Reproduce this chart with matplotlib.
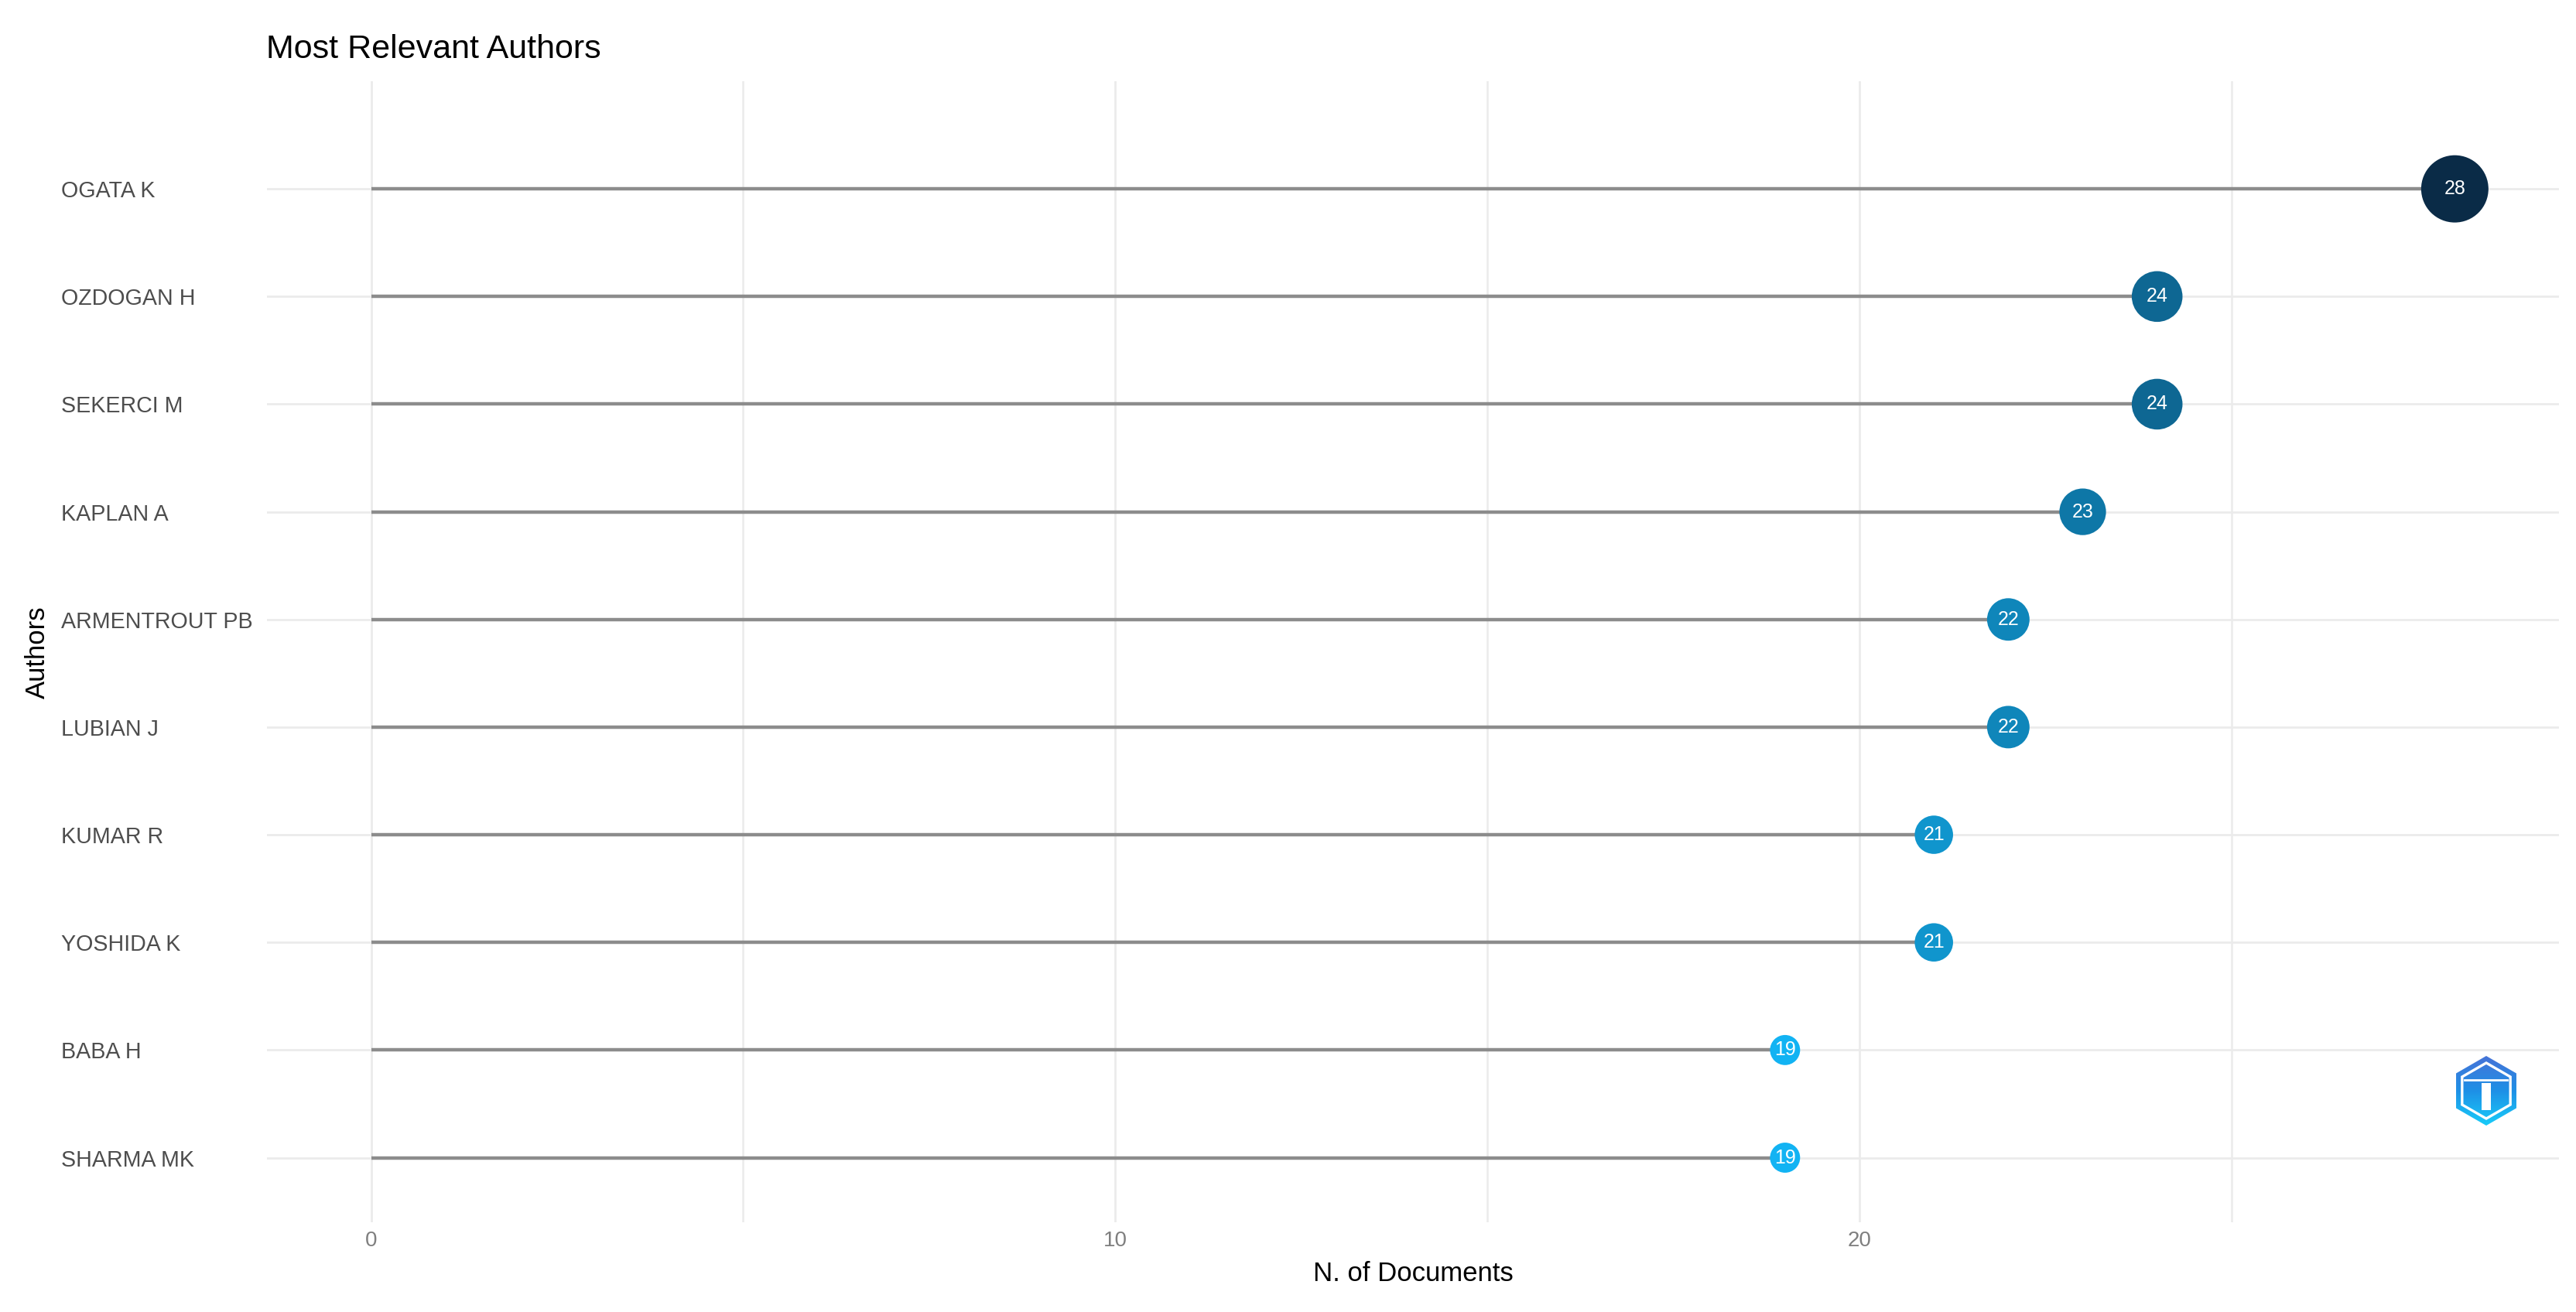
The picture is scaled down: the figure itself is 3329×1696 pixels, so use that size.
import numpy as np
import matplotlib
matplotlib.use("Agg")
import matplotlib.pyplot as plt
from matplotlib.colors import LinearSegmentedColormap, Normalize
from matplotlib.patches import RegularPolygon

# --- data -----------------------------------------------------------------
authors = ["OGATA K", "OZDOGAN H", "SEKERCI M", "KAPLAN A", "ARMENTROUT PB",
           "LUBIAN J", "KUMAR R", "YOSHIDA K", "BABA H", "SHARMA MK"]
n_docs = [28, 24, 24, 23, 22, 22, 21, 21, 19, 19]
x_ticks = [0, 10, 20]
x_minor = [5, 15, 25]

plt.rcParams["font.family"] = ["Liberation Sans", "DejaVu Sans"]

W, H, DPI = 3330, 1696, 200
fig = plt.figure(figsize=(W / DPI, H / DPI), dpi=DPI)
fig.patch.set_facecolor("white")

# panel placement (pixels of the final image)
left, right, top, bottom = 345, 3307, 105, 1580
ax = fig.add_axes([left / W, 1 - bottom / H, (right - left) / W, (bottom - top) / H])

ypos = np.arange(len(authors))[::-1] + 1  # first author on top
vals = np.array(n_docs)

cmap = LinearSegmentedColormap.from_list("docs", ["#12B3F3", "#0A2B47"])
norm = Normalize(vmin=vals.min(), vmax=vals.max())

# marker diameter in points, grows with value
d_min, d_max = 14.0, 31.3
diam = d_min + (vals - vals.min()) / (vals.max() - vals.min()) * (d_max - d_min)

ax.hlines(ypos, 0, vals, color="#8c8c8c", lw=1.6, zorder=2)
ax.scatter(vals, ypos, s=diam ** 2, c=vals, cmap=cmap, norm=norm,
           linewidths=0, zorder=3)
for v, y in zip(vals, ypos):
    ax.text(v, y, str(v), ha="center", va="center", color="white",
            fontsize=9, zorder=4)

ax.set_xlim(-1.4, 29.4)
ax.set_ylim(0.4, len(authors) + 1)

ax.set_xticks(x_ticks)
ax.set_xticks(x_minor, minor=True)
ax.set_yticks(ypos)
ax.set_yticklabels(authors, ha="left", color="#4d4d4d", fontsize=10.3)
ax.tick_params(axis="y", length=0, pad=(left - 79) / DPI * 72)
ax.tick_params(axis="x", which="both", length=0, pad=4, labelsize=10,
               labelcolor="#7f7f7f")

ax.grid(which="major", color="#ebebeb", lw=1.0, zorder=0)
ax.grid(which="minor", axis="x", color="#ebebeb", lw=0.9, zorder=0)
ax.set_axisbelow(True)
for s in ax.spines.values():
    s.set_visible(False)

fig.text(344 / W, 1 - 64 / H, "Most Relevant Authors", ha="left", va="center",
         fontsize=15.5, color="black")
fig.text((left + right) / 2 / W, 1 - 1646 / H, "N. of Documents", ha="center",
         va="center", fontsize=12.5, color="black")
fig.text(48 / W, 1 - 843 / H, "Authors", ha="center", va="center",
         rotation=90, fontsize=12.5, color="black")

# small hexagon logo, bottom right
lx, ly, box = 3213, 1410, 100
lax = fig.add_axes([(lx - box / 2) / W, 1 - (ly + box / 2) / H, box / W, box / H])
lax.set_xlim(-1, 1)
lax.set_ylim(-1, 1)
lax.axis("off")
hexa = RegularPolygon((0, 0), 6, radius=0.9, facecolor="none", edgecolor="none")
lax.add_patch(hexa)
grad = np.linspace(0, 1, 100).reshape(-1, 1)
logo_cmap = LinearSegmentedColormap.from_list("logo", ["#18D2FB", "#1E90E6", "#4A70D6"])
img = lax.imshow(grad, extent=(-1, 1, -1, 1), origin="lower", cmap=logo_cmap,
                 aspect="auto")
img.set_clip_path(hexa)
lax.add_patch(RegularPolygon((0, 0), 6, radius=0.72, facecolor="none",
                             edgecolor="white", lw=1.2))
lax.plot([-0.55, 0.55], [0.28, 0.28], color="white", lw=1.0)
lax.add_patch(plt.Rectangle((-0.12, -0.5), 0.24, 0.7, color="white", lw=0))

fig.savefig("out.png", dpi=DPI, facecolor="white")
